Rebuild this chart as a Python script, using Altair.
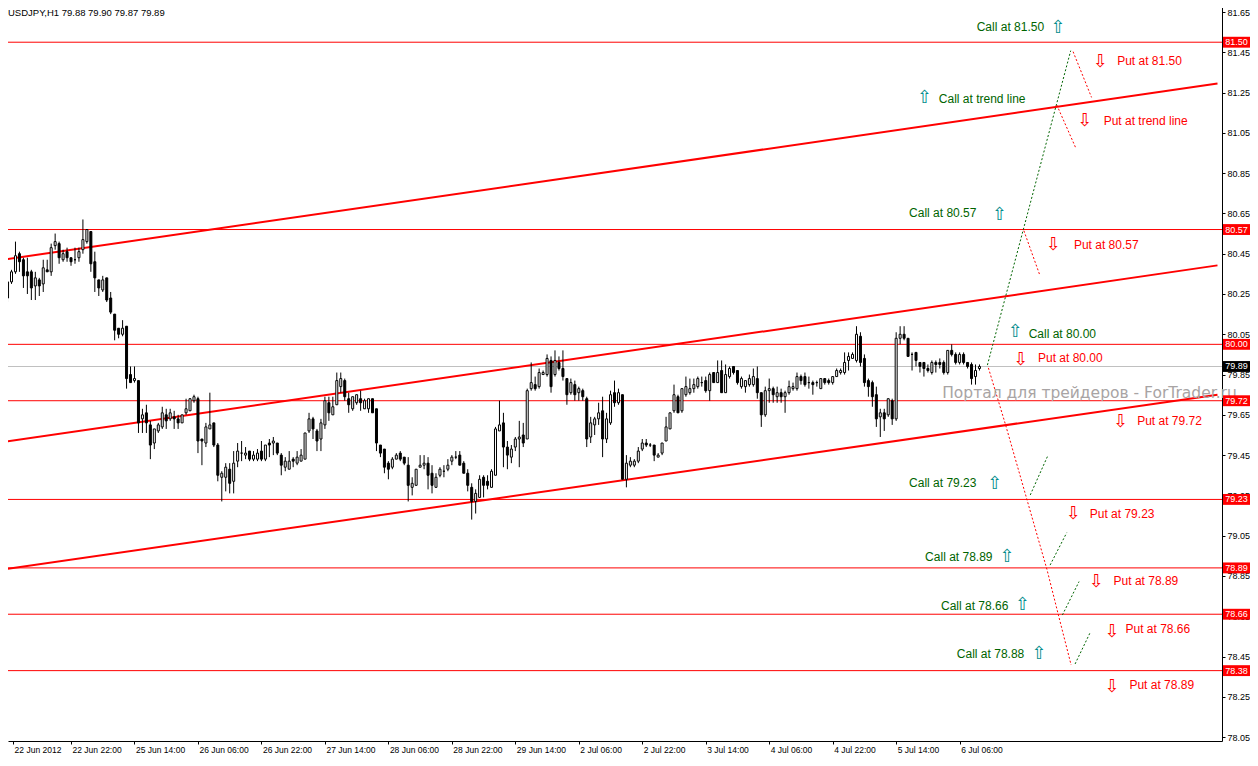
import json
import altair as alt
import pandas as pd

# ---------------- data ----------------
OPEN = [80.23,80.31,80.36,80.45,80.42,80.36,80.36,80.29,80.32,80.30,80.37,80.36,80.49,80.50,80.42,80.46,80.43,80.42,80.43,80.47,
        80.51,80.56,80.41,80.32,80.27,80.33,80.23,80.15,80.08,80.05,80.09,79.85,79.82,79.82,79.63,79.66,79.60,79.51,79.57,79.59,
        79.65,79.63,79.64,79.63,79.61,79.66,79.67,79.72,79.73,79.53,79.51,79.58,79.61,79.50,79.34,79.34,79.38,79.32,79.42,79.46,
        79.45,79.47,79.43,79.43,79.47,79.43,79.51,79.51,79.51,79.45,79.39,79.38,79.43,79.41,79.42,79.43,79.57,79.63,79.57,79.53,
        79.60,79.71,79.65,79.70,79.79,79.82,79.73,79.68,79.71,79.73,79.68,79.68,79.73,79.68,79.50,79.48,79.41,79.39,79.43,79.46,
        79.44,79.40,79.29,79.30,79.39,79.40,79.41,79.36,79.29,79.35,79.37,79.38,79.42,79.44,79.45,79.41,79.36,79.29,79.22,79.24,
        79.34,79.32,79.29,79.35,79.57,79.61,79.49,79.44,79.49,79.53,79.55,79.53,79.78,79.80,79.79,79.85,79.85,79.92,79.85,79.91,
        79.88,79.83,79.76,79.80,79.76,79.77,79.73,79.54,79.60,79.63,79.67,79.53,79.61,79.76,79.71,79.75,79.33,79.40,79.40,79.42,
        79.48,79.51,79.50,79.50,79.44,79.46,79.52,79.58,79.67,79.74,79.67,79.75,79.76,79.78,79.79,79.81,79.82,79.77,79.86,79.81,
        79.87,79.76,79.84,79.89,79.87,79.79,79.79,79.80,79.80,79.83,79.76,79.65,79.77,79.78,79.74,79.76,79.74,79.76,79.78,79.78,
        79.84,79.84,79.81,79.81,79.81,79.78,79.83,79.82,79.81,79.84,79.86,79.86,79.92,79.93,79.92,80.04,79.93,79.82,79.81,79.75,
        79.64,79.66,79.65,79.72,79.63,80.03,80.05,80.03,79.95,79.96,79.91,79.91,79.88,79.86,79.91,79.91,79.91,79.86,79.97,79.95,
        79.91,79.95,79.91,79.90,79.84,79.88]
HIGH = [80.31,80.37,80.51,80.46,80.43,80.43,80.37,80.36,80.33,80.42,80.42,80.50,80.55,80.51,80.47,80.48,80.43,80.48,80.48,80.62,
        80.57,80.56,80.46,80.32,80.34,80.33,80.26,80.15,80.08,80.12,80.09,79.89,79.89,79.82,79.68,79.70,79.62,79.58,79.61,79.69,
        79.68,79.68,79.67,79.65,79.65,79.73,79.73,79.75,79.74,79.53,79.61,79.76,79.61,79.51,79.37,79.41,79.41,79.47,79.51,79.52,
        79.49,79.47,79.47,79.48,79.52,79.50,79.53,79.54,79.51,79.46,79.44,79.47,79.44,79.47,79.48,79.56,79.66,79.64,79.58,79.63,
        79.74,79.74,79.74,79.86,79.86,79.83,79.76,79.74,79.75,79.77,79.73,79.73,79.73,79.68,79.50,79.48,79.42,79.44,79.46,79.47,
        79.44,79.44,79.34,79.38,79.45,79.45,79.44,79.40,79.36,79.39,79.40,79.43,79.45,79.47,79.47,79.42,79.38,79.31,79.28,79.35,
        79.35,79.35,79.38,79.59,79.72,79.66,79.52,79.50,79.54,79.62,79.61,79.78,79.91,79.84,79.88,79.87,79.95,79.94,79.97,79.94,
        79.97,79.83,79.83,79.82,79.79,79.78,79.74,79.64,79.64,79.71,79.74,79.66,79.77,79.82,79.78,79.75,79.45,79.44,79.43,79.49,
        79.53,79.53,79.51,79.50,79.46,79.51,79.64,79.66,79.80,79.75,79.78,79.84,79.83,79.83,79.84,79.84,79.84,79.86,79.86,79.92,
        79.92,79.90,79.89,79.89,79.87,79.84,79.82,79.85,79.88,79.89,79.76,79.79,79.83,79.79,79.79,79.78,79.77,79.82,79.81,79.86,
        79.85,79.86,79.84,79.82,79.82,79.83,79.83,79.83,79.84,79.88,79.88,79.96,79.96,79.96,80.09,80.06,79.95,79.83,79.82,79.79,
        79.68,79.68,79.73,79.73,80.06,80.09,80.09,80.03,79.96,79.96,79.91,79.91,79.90,79.92,79.92,79.93,79.92,79.97,80.00,79.96,
        79.96,79.96,79.91,79.91,79.90,79.90]
LOW = [80.21,80.30,80.35,80.36,80.28,80.25,80.22,80.22,80.24,80.26,80.36,80.34,80.47,80.40,80.41,80.41,80.39,80.40,80.41,80.45,
       80.50,80.36,80.26,80.24,80.26,80.21,80.15,80.02,80.03,80.04,79.78,79.81,79.81,79.56,79.56,79.56,79.43,79.48,79.56,79.58,
       79.58,79.62,79.58,79.58,79.61,79.65,79.67,79.71,79.46,79.40,79.49,79.58,79.49,79.32,79.22,79.27,79.26,79.26,79.39,79.42,
       79.43,79.42,79.42,79.42,79.42,79.42,79.44,79.45,79.45,79.35,79.37,79.38,79.39,79.40,79.42,79.43,79.56,79.53,79.47,79.47,
       79.58,79.62,79.65,79.70,79.76,79.72,79.66,79.67,79.70,79.67,79.68,79.66,79.66,79.47,79.44,79.36,79.33,79.38,79.43,79.42,
       79.40,79.22,79.25,79.30,79.39,79.38,79.28,79.26,79.29,79.34,79.34,79.37,79.40,79.43,79.40,79.36,79.27,79.13,79.16,79.24,
       79.24,79.28,79.29,79.35,79.57,79.39,79.38,79.41,79.47,79.39,79.49,79.53,79.77,79.77,79.78,79.85,79.84,79.76,79.84,79.87,
       79.82,79.70,79.75,79.72,79.72,79.72,79.49,79.51,79.55,79.60,79.44,79.51,79.60,79.69,79.70,79.33,79.29,79.39,79.39,79.41,
       79.47,79.49,79.49,79.42,79.44,79.45,79.52,79.58,79.66,79.66,79.66,79.74,79.75,79.76,79.78,79.79,79.76,79.72,79.81,79.81,
       79.76,79.76,79.83,79.85,79.80,79.78,79.76,79.79,79.79,79.73,79.59,79.64,79.71,79.71,79.71,79.71,79.66,79.75,79.77,79.77,
       79.80,79.79,79.78,79.75,79.79,79.78,79.80,79.80,79.80,79.84,79.85,79.85,79.87,79.93,79.91,79.89,79.79,79.74,79.69,79.59,
       79.54,79.57,79.64,79.60,79.62,80.00,80.02,79.94,79.87,79.89,79.86,79.84,79.86,79.85,79.86,79.88,79.85,79.85,79.94,79.90,
       79.90,79.90,79.88,79.80,79.80,79.87]
CLOSE = [80.31,80.36,80.44,80.41,80.34,80.34,80.28,80.33,80.29,80.38,80.36,80.48,80.51,80.43,80.45,80.43,80.41,80.42,80.46,80.52,
         80.57,80.40,80.33,80.28,80.32,80.22,80.16,80.07,80.05,80.08,79.83,79.81,79.83,79.61,79.65,79.61,79.50,79.58,79.60,79.66,
         79.62,79.66,79.63,79.61,79.65,79.68,79.73,79.74,79.52,79.52,79.59,79.60,79.50,79.35,79.36,79.39,79.31,79.41,79.47,79.46,
         79.46,79.43,79.45,79.46,79.43,79.50,79.50,79.52,79.46,79.40,79.42,79.42,79.42,79.44,79.45,79.56,79.63,79.58,79.52,79.61,
         79.72,79.66,79.69,79.82,79.83,79.74,79.70,79.74,79.75,79.71,79.72,79.73,79.66,79.51,79.46,79.39,79.38,79.43,79.45,79.43,
         79.41,79.30,79.31,79.38,79.40,79.41,79.35,79.30,79.34,79.38,79.37,79.40,79.44,79.44,79.40,79.36,79.30,79.22,79.26,79.33,
         79.30,79.30,79.37,79.58,79.60,79.49,79.45,79.48,79.53,79.54,79.51,79.77,79.81,79.78,79.86,79.86,79.93,79.79,79.92,79.88,
         79.84,79.75,79.81,79.75,79.78,79.74,79.53,79.61,79.63,79.66,79.53,79.63,79.75,79.71,79.76,79.33,79.41,79.42,79.42,79.47,
         79.51,79.50,79.50,79.45,79.45,79.51,79.59,79.66,79.75,79.66,79.78,79.79,79.78,79.80,79.83,79.81,79.77,79.85,79.81,79.86,
         79.76,79.85,79.88,79.86,79.81,79.83,79.82,79.83,79.84,79.76,79.65,79.77,79.78,79.75,79.76,79.74,79.76,79.79,79.79,79.84,
         79.82,79.80,79.81,79.80,79.81,79.83,79.81,79.81,79.84,79.87,79.87,79.91,79.94,79.95,80.05,79.91,79.81,79.79,79.74,79.63,
         79.66,79.63,79.73,79.63,80.03,80.05,80.03,79.94,79.95,79.92,79.89,79.88,79.87,79.91,79.90,79.90,79.86,79.97,79.95,79.91,
         79.95,79.91,79.89,79.83,79.87,79.89]

X_TICKS = [1.4, 16, 32, 48, 64, 80, 96, 112, 128, 144, 160, 176, 192, 208, 224, 240]
X_LABELS = ["22 Jun 2012", "22 Jun 22:00", "25 Jun 14:00", "26 Jun 06:00", "26 Jun 22:00",
            "27 Jun 14:00", "28 Jun 06:00", "28 Jun 22:00", "29 Jun 14:00", "2 Jul 06:00",
            "2 Jul 22:00", "3 Jul 14:00", "4 Jul 06:00", "4 Jul 22:00", "5 Jul 14:00", "6 Jul 06:00"]
Y_TICKS = [round(78.05 + 0.2 * k, 2) for k in range(19)]

LEVELS = [81.50, 80.57, 80.00, 79.72, 79.23, 78.89, 78.66, 78.38]
BID = 79.89
HEADER = "USDJPY,H1  79.88 79.90 79.87 79.89"
WATERMARK = "Портал для трейдеров - ForTrader.ru"

# trend channel lines: (bar index, price) at both ends
TREND_IDS = ["upper", "upper", "middle", "middle", "lower", "lower"]
TREND_X = [-0.5, 305, -0.5, 305, -0.5, 305]
TREND_P = [80.422, 81.2945, 79.5166, 80.392, 78.8845, 79.750]

# forecast dotted paths
FC_ID = ["g1", "g1", "r1", "r1", "r2", "r2", "r3", "r3",
         "r4", "r4", "r4", "r4", "r4", "r4",
         "g2", "g2", "g3", "g3", "g4", "g4", "g5", "g5"]
FC_KIND = ["call", "call", "put", "put", "put", "put", "put", "put",
           "put", "put", "put", "put", "put", "put",
           "call", "call", "call", "call", "call", "call", "call", "call"]
FC_X = [247.0, 268.0, 268.6, 273.25, 264.5, 269.25, 256.2, 260.2,
        247.25, 251.6, 257.0, 262.0, 264.9, 268.1,
        257.8, 262.2, 262.8, 267.0, 265.9, 270.1, 269.1, 272.8]
FC_P = [79.897, 81.458, 81.453, 81.226, 81.188, 80.976, 80.564, 80.344,
        79.883, 79.599, 79.227, 78.883, 78.656, 78.408,
        79.252, 79.446, 78.904, 79.065, 78.656, 78.822, 78.413, 78.565]

# annotations
ANN_TEXT = ["Call at 81.50", "Put at 81.50", "Call at trend line", "Put at trend line",
            "Call at 80.57", "Put at 80.57", "Call at 80.00", "Put at 80.00", "Put at 79.72",
            "Call at 79.23", "Put at 79.23", "Call at 78.89", "Put at 78.89",
            "Call at 78.66", "Put at 78.66", "Call at 78.88", "Put at 78.89"]
ANN_KIND = ["call", "put", "call", "put", "call", "put", "call", "put", "put",
            "call", "put", "call", "put", "call", "put", "call", "put"]
ANN_TX = [244.3, 279.7, 234.75, 276.3, 227.25, 268.8, 257.4, 259.75, 284.75,
          227.25, 272.8, 231.3, 278.8, 235.3, 281.8, 239.3, 282.8]
ANN_TP = [81.577, 81.407, 81.217, 81.109, 80.651, 80.493, 80.051, 79.931, 79.619,
          79.310, 79.158, 78.943, 78.825, 78.702, 78.585, 78.461, 78.310]
ANN_AX = [264.9, 275.5, 231.2, 271.6, 250.1, 263.7, 254.1, 255.5, 280.6,
          248.9, 268.7, 252.0, 274.5, 255.9, 278.5, 260.1, 278.5]
ANN_AP = [81.571, 81.403, 81.222, 81.110, 80.642, 80.493, 80.060, 79.922, 79.613,
          79.307, 79.158, 78.944, 78.822, 78.706, 78.573, 78.461, 78.297]
WM_X, WM_P = 235.6, 79.760

# ---------------- frames ----------------
n = len(CLOSE)
candles = pd.DataFrame({"i": list(range(n)), "o": OPEN, "h": HIGH, "l": LOW, "c": CLOSE})
candles["dir"] = ["up" if c >= o else "down" for o, c in zip(OPEN, CLOSE)]

levels = pd.DataFrame({"p": LEVELS})
levels["lab"] = [f"{v:.2f}" for v in LEVELS]
levels["kind"] = "level"
bid = pd.DataFrame({"p": [BID], "lab": [f"{BID:.2f}"], "kind": ["bid"]})
boxes = pd.concat([levels, bid], ignore_index=True)

trend = pd.DataFrame({"id": TREND_IDS, "x": TREND_X, "p": TREND_P})
fc = pd.DataFrame({"id": FC_ID, "kind": FC_KIND, "x": FC_X, "p": FC_P})
ann = pd.DataFrame({"t": ANN_TEXT, "kind": ANN_KIND, "tx": ANN_TX, "tp": ANN_TP, "ax": ANN_AX, "ap": ANN_AP})
ann["arrow"] = ["⇧" if k == "call" else "⇩" for k in ANN_KIND]
wm = pd.DataFrame({"t": [WATERMARK], "x": [WM_X], "p": [WM_P]})
head = pd.DataFrame({"t": [HEADER]})

W, H = 1214, 741
XDOM = [1.375, 304.875]
YDOM = [78.0306, 81.7096]
FONT = "Liberation Sans"

label_expr = json.dumps(X_LABELS) + "[round(datum.value/16)]"
x_axis = alt.Axis(values=X_TICKS, labelExpr=label_expr, labelAlign="left", labelFont=FONT,
                  labelFontSize=8.5, labelColor="black", tickColor="black", tickSize=3,
                  domainColor="black", grid=False, labelPadding=1, labelOffset=1, labelFlush=False,
                  labelOverlap=False, title=None)
y_axis = alt.Axis(values=Y_TICKS, format=".2f", orient="right", labelFont=FONT, labelFontSize=9,
                  labelColor="black", tickColor="black", tickSize=3, domainColor="black",
                  grid=False, labelPadding=2, labelOverlap=False, labelFlush=False, title=None)


def X(field):
    return alt.X(field, type="quantitative", scale=alt.Scale(domain=XDOM, nice=False, zero=False),
                 axis=x_axis, title=None)


def Y(field):
    return alt.Y(field, type="quantitative", scale=alt.Scale(domain=YDOM, nice=False, zero=False),
                 axis=y_axis, title=None)


level_rules = alt.Chart(levels).mark_rule(color="#ff0000", strokeWidth=1).encode(y=Y("p"))
bid_rule = alt.Chart(bid).mark_rule(color="#c0c0c0", strokeWidth=1).encode(y=Y("p"))

trend_lines = alt.Chart(trend).mark_line(color="#ff0000", strokeWidth=2, clip=True).encode(
    x=X("x"), y=Y("p"), detail="id:N")

wicks = alt.Chart(candles).mark_rule(color="black", strokeWidth=1, clip=True).encode(
    x=X("i"), y=Y("l"), y2="h")
bodies = alt.Chart(candles).mark_bar(size=2, stroke="black", strokeWidth=1, clip=True).encode(
    x=X("i"), y=Y("o"), y2="c",
    fill=alt.Fill("dir:N", scale=alt.Scale(domain=["up", "down"], range=["white", "black"]), legend=None))

fc_lines = alt.Chart(fc).mark_line(strokeWidth=1, strokeDash=[2, 2], clip=True).encode(
    x=X("x"), y=Y("p"), detail="id:N",
    color=alt.Color("kind:N", scale=alt.Scale(domain=["call", "put"], range=["#006400", "#ff0000"]), legend=None))

ann_text = alt.Chart(ann).mark_text(align="left", baseline="middle", font=FONT, fontSize=12).encode(
    x=X("tx"), y=Y("tp"), text="t:N",
    color=alt.Color("kind:N", scale=alt.Scale(domain=["call", "put"], range=["#006400", "#ff0000"]), legend=None))
ann_arrow = alt.Chart(ann).mark_text(align="center", baseline="middle", font="DejaVu Sans", fontSize=18).encode(
    x=X("ax"), y=Y("ap"), text="arrow:N",
    color=alt.Color("kind:N", scale=alt.Scale(domain=["call", "put"], range=["#008b8b", "#ff0000"]), legend=None))

watermark = alt.Chart(wm).mark_text(align="left", baseline="middle", font="DejaVu Sans", fontSize=15.5,
                                    color="#a8a4a4").encode(x=X("x"), y=Y("p"), text="t:N")

box_rects = alt.Chart(boxes).transform_calculate(
    top="datum.p + 0.027", bot="datum.p - 0.027"
).mark_rect().encode(
    x=alt.value(W + 1), x2=alt.value(W + 28), y=Y("top:Q"), y2="bot:Q",
    fill=alt.Fill("kind:N", scale=alt.Scale(domain=["level", "bid"], range=["#ff0000", "#000000"]), legend=None))
box_text = alt.Chart(boxes).mark_text(align="center", baseline="middle", font=FONT, fontSize=9,
                                      color="white").encode(
    x=alt.value(W + 14.5), y=Y("p"), text="lab:N")

header = alt.Chart(head).mark_text(align="left", baseline="middle", font=FONT, fontSize=9.5,
                                   color="black").encode(x=alt.value(0), y=alt.value(13), text="t:N")

chart = alt.layer(
    level_rules, bid_rule, trend_lines, wicks, bodies, fc_lines,
    watermark, ann_text, ann_arrow, box_rects, box_text, header
).resolve_scale(
    color="independent", fill="independent"
).properties(
    width=W, height=H,
    autosize=alt.AutoSizeParams(type="none"),
    padding={"left": 0, "top": -8, "right": 28, "bottom": 15},
    background="white",
).configure_view(stroke=None)

chart.save("out.html", embed_options={"renderer": "svg", "actions": False})
